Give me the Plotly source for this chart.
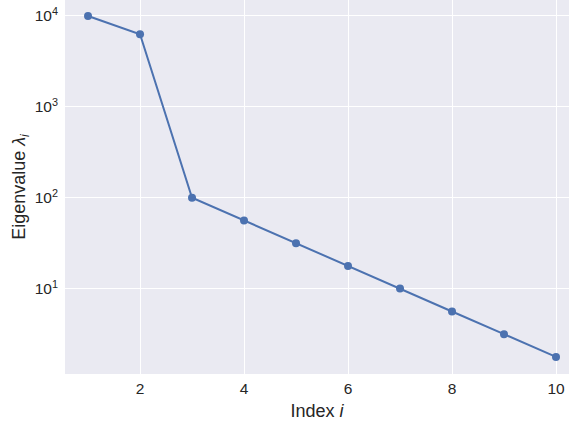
import plotly.graph_objects as go

index = [1, 2, 3, 4, 5, 6, 7, 8, 9, 10]
eigenvalues = [10000, 6300, 100, 56, 31.5, 17.7, 10, 5.6, 3.15, 1.77]
x_ticks = [2, 4, 6, 8, 10]
y_ticks = [10, 100, 1000, 10000]
y_ticktext = ["10<sup>1</sup>", "10<sup>2</sup>", "10<sup>3</sup>", "10<sup>4</sup>"]

fig = go.Figure(go.Scatter(
    x=index, y=eigenvalues, mode="lines+markers",
    line=dict(color="#4C72B0", width=2),
    marker=dict(color="#4C72B0", size=8),
))

font = "Liberation Sans, Arial, sans-serif"
fig.update_layout(
    width=569, height=423,
    margin=dict(l=65, r=0, t=0, b=49),
    paper_bgcolor="white", plot_bgcolor="#EAEAF2",
    font=dict(family=font, size=15.5, color="#262626"),
    showlegend=False,
)
fig.update_xaxes(
    range=[0.557, 10.25], tickvals=x_ticks, showgrid=True, gridcolor="white", gridwidth=1.3,
    zeroline=False, showline=False, ticks="", tickfont=dict(size=15.5, color="#262626"),
    ticklabelstandoff=3,
    title=dict(text="Index <i>i</i>", font=dict(size=18), standoff=8),
)
fig.update_yaxes(
    type="log", range=[0.06, 4.176], tickvals=y_ticks, ticktext=y_ticktext,
    showgrid=True, gridcolor="white", gridwidth=1.3, zeroline=False, showline=False,
    ticks="", tickfont=dict(size=15.5, color="#262626"), ticklabelstandoff=6,
    title=dict(text="Eigenvalue <i>λ</i><sub><i>i</i></sub>", font=dict(size=18), standoff=4),
)

fig.write_html("out.html", config={"displayModeBar": False},
               post_script="document.body.style.margin='0';document.body.style.padding='0';")
